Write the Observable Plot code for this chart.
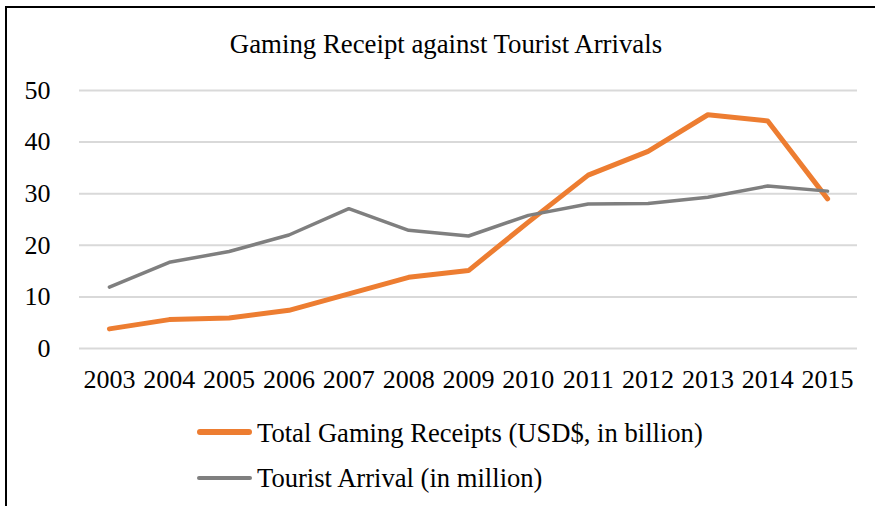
<!DOCTYPE html>
<html>
<head>
<meta charset="utf-8">
<script src="https://cdn.jsdelivr.net/npm/d3@7"></script>
<script src="https://cdn.jsdelivr.net/npm/@observablehq/plot@0.6"></script>
<style>
  html, body { margin: 0; padding: 0; background: #fff; overflow: hidden; }
  #wrap { position: relative; width: 875px; height: 506px; font-family: "Liberation Serif", "Times New Roman", serif; color: #000; }
  #frame { position: absolute; left: 5px; top: 6px; width: 900px; height: 600px; border-left: 2px solid #000; border-top: 2px solid #000; box-sizing: border-box; }
  #title { position: absolute; left: 0; width: 892px; top: 31px; text-align: center; font-size: 26.8px; line-height: 26px; white-space: nowrap; }
  #chart { position: absolute; left: 0; top: 0; }
  .lg { position: absolute; font-size: 26.6px; line-height: 26px; white-space: nowrap; }
  .sw { position: absolute; border-radius: 3px; }
</style>
</head>
<body>
<div id="wrap">
  <div id="frame"></div>
  <div id="chart"></div>
  <div id="title"></div>
  <div id="legend"></div>
</div>
<script>
const title = "Gaming Receipt against Tourist Arrivals";
const years = ["2003","2004","2005","2006","2007","2008","2009","2010","2011","2012","2013","2014","2015"];
const gamingReceipts = [3.8, 5.6, 5.9, 7.4, 10.6, 13.8, 15.1, 24.5, 33.6, 38.2, 45.3, 44.1, 29.0];
const touristArrivals = [11.9, 16.7, 18.8, 22.0, 27.1, 22.9, 21.8, 25.8, 28.0, 28.1, 29.3, 31.5, 30.5];
const yTicks = [0, 10, 20, 30, 40, 50];
const seriesNames = ["Total Gaming Receipts (USD$, in billion)", "Tourist Arrival (in million)"];
const seriesColors = ["#ED7D31", "#7F7F7F"];

const gaming = years.map((y, i) => ({year: y, value: gamingReceipts[i]}));
const tourist = years.map((y, i) => ({year: y, value: touristArrivals[i]}));

const chart = Plot.plot({
  width: 875,
  height: 400,
  marginLeft: 79,
  marginRight: 18,
  marginTop: 90,
  marginBottom: 52,
  style: {fontFamily: "'Liberation Serif', 'Times New Roman', serif", fontSize: "26px", color: "#000", background: "transparent", overflow: "visible"},
  x: {type: "point", domain: years, padding: 0.5, round: false, label: null},
  y: {domain: [0, 50], label: null},
  marks: [
    Plot.ruleY(yTicks, {stroke: "#D9D9D9", strokeWidth: 2}),
    Plot.axisY({ticks: yTicks, tickSize: 0, tickPadding: 29, fontSize: 26, label: null}),
    Plot.axisX({tickSize: 0, tickPadding: 21, fontSize: 26, label: null}),
    Plot.line(gaming, {x: "year", y: "value", stroke: seriesColors[0], strokeWidth: 5, strokeLinejoin: "round", strokeLinecap: "round"}),
    Plot.line(tourist, {x: "year", y: "value", stroke: seriesColors[1], strokeWidth: 3.5, strokeLinejoin: "round", strokeLinecap: "round"})
  ]
});
document.getElementById("chart").appendChild(chart);
document.getElementById("title").textContent = title;

const legend = document.getElementById("legend");
const rows = [{sy: 432, top: 420, w: 5.5}, {sy: 478, top: 465, w: 3.8}];
seriesNames.forEach((name, i) => {
  const sw = document.createElement("div");
  sw.className = "sw";
  sw.style.left = "197px";
  sw.style.width = "55px";
  sw.style.height = rows[i].w + "px";
  sw.style.top = (rows[i].sy - rows[i].w / 2) + "px";
  sw.style.background = seriesColors[i];
  legend.appendChild(sw);
  const t = document.createElement("div");
  t.className = "lg";
  t.style.left = "257px";
  t.style.top = rows[i].top + "px";
  t.textContent = name;
  legend.appendChild(t);
});
</script>
</body>
</html>
